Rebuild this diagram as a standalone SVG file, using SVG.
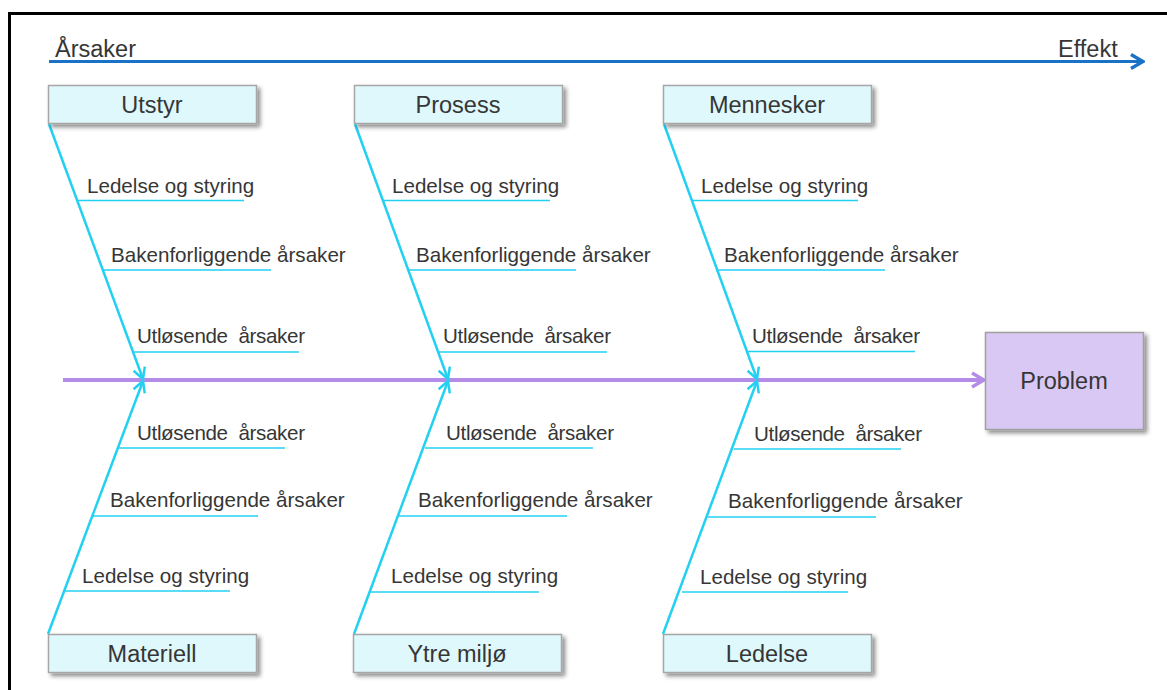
<svg xmlns="http://www.w3.org/2000/svg" width="1167" height="690" viewBox="0 0 1167 690">
  <defs>
    <style>
      text { font-family: "Liberation Sans", Arial, sans-serif; fill: #363636; }
      .title { font-size: 23.5px; text-anchor: middle; }
      .lbl { font-size: 20.6px; }
      .axislbl { font-size: 23.5px; }
      .cat { fill: #dff8fc; stroke: #a6a6a6; stroke-width: 1.5; }
      .prob { fill: #dac8f4; stroke: #a0a0a0; stroke-width: 1.5; }
      .bone { stroke: #22d0f2; stroke-width: 2.5; fill: none; }
      .sub { stroke: #22d0f2; stroke-width: 1.5; fill: none; }
      .spine { stroke: #b48ce8; stroke-width: 4; fill: none; }
      .axis { stroke: #1a72c6; stroke-width: 3; fill: none; }
    </style>
    <filter id="shadow" x="-10%" y="-20%" width="130%" height="160%">
      <feDropShadow dx="3" dy="3" stdDeviation="2" flood-color="#000" flood-opacity="0.45"/>
    </filter>
    <marker id="headCyan" viewBox="0 0 14 14" refX="12" refY="7" markerWidth="14" markerHeight="14" markerUnits="userSpaceOnUse" orient="auto">
      <path d="M1,1 L12,7 L1,13" fill="none" stroke="#22d0f2" stroke-width="2.5"/>
    </marker>
    <marker id="headPurple" viewBox="0 0 16 18" refX="14" refY="9" markerWidth="16" markerHeight="18" markerUnits="userSpaceOnUse" orient="auto">
      <path d="M2,2 L14,9 L2,16" fill="none" stroke="#b48ce8" stroke-width="3.5"/>
    </marker>
    <marker id="headBlue" viewBox="0 0 16 18" refX="14" refY="9" markerWidth="16" markerHeight="18" markerUnits="userSpaceOnUse" orient="auto">
      <path d="M2,2 L14,9 L2,16" fill="none" stroke="#1a72c6" stroke-width="3.5"/>
    </marker>
  </defs>

  <rect width="1167" height="690" fill="#ffffff"/>
  <!-- outer frame -->
  <path d="M9.5,690 V13.5 H1167" fill="none" stroke="#000" stroke-width="3"/>

  <!-- cause-to-effect axis -->
  <g id="axis">
    <line class="axis" x1="49" y1="61.5" x2="1143" y2="61.5" marker-end="url(#headBlue)"/>
    <text class="axislbl" x="55" y="57">Årsaker</text>
    <text class="axislbl" x="1058" y="57">Effekt</text>
  </g>

  <!-- connectors: spine, main bones, sub-branches -->
  <g id="connectors">
    <line class="spine" x1="63" y1="380" x2="984" y2="380" marker-end="url(#headPurple)"/>

    <line class="bone" x1="49" y1="124" x2="143" y2="379" marker-end="url(#headCyan)"/>
    <line class="bone" x1="355" y1="124" x2="448" y2="379" marker-end="url(#headCyan)"/>
    <line class="bone" x1="664" y1="124" x2="757" y2="379" marker-end="url(#headCyan)"/>

    <line class="bone" x1="48" y1="634" x2="143" y2="381" marker-end="url(#headCyan)"/>
    <line class="bone" x1="354" y1="634" x2="448" y2="381" marker-end="url(#headCyan)"/>
    <line class="bone" x1="663" y1="634" x2="757" y2="381" marker-end="url(#headCyan)"/>

    <!-- upper sub-branches -->
    <line class="sub" x1="77" y1="200.5" x2="244" y2="200.5"/>
    <line class="sub" x1="103" y1="270" x2="271" y2="270"/>
    <line class="sub" x1="133" y1="352" x2="299" y2="352"/>
    <line class="sub" x1="383" y1="200.5" x2="550" y2="200.5"/>
    <line class="sub" x1="408" y1="270" x2="576" y2="270"/>
    <line class="sub" x1="439" y1="352" x2="607" y2="352"/>
    <line class="sub" x1="692" y1="200.5" x2="858" y2="200.5"/>
    <line class="sub" x1="717" y1="270" x2="885" y2="270"/>
    <line class="sub" x1="748" y1="351.5" x2="915" y2="351.5"/>

    <!-- lower sub-branches -->
    <line class="sub" x1="119" y1="448" x2="285" y2="448"/>
    <line class="sub" x1="93" y1="516" x2="258" y2="516"/>
    <line class="sub" x1="64" y1="591" x2="230" y2="591"/>
    <line class="sub" x1="425" y1="448" x2="593" y2="448"/>
    <line class="sub" x1="399" y1="516" x2="567" y2="516"/>
    <line class="sub" x1="370" y1="592" x2="539" y2="592"/>
    <line class="sub" x1="734" y1="449" x2="901" y2="449"/>
    <line class="sub" x1="708" y1="517" x2="876" y2="517"/>
    <line class="sub" x1="682" y1="592" x2="848" y2="592"/>
  </g>

  <!-- branch labels -->
  <g id="labels">
    <text class="lbl" x="87" y="193">Ledelse og styring</text>
    <text class="lbl" x="111" y="262">Bakenforliggende årsaker</text>
    <text class="lbl" x="137" y="343" xml:space="preserve" textLength="168" lengthAdjust="spacing">Utløsende  årsaker</text>
    <text class="lbl" x="392" y="193">Ledelse og styring</text>
    <text class="lbl" x="416" y="262">Bakenforliggende årsaker</text>
    <text class="lbl" x="443" y="343" xml:space="preserve" textLength="168" lengthAdjust="spacing">Utløsende  årsaker</text>
    <text class="lbl" x="701" y="193">Ledelse og styring</text>
    <text class="lbl" x="724" y="262">Bakenforliggende årsaker</text>
    <text class="lbl" x="752" y="343" xml:space="preserve" textLength="168" lengthAdjust="spacing">Utløsende  årsaker</text>

    <text class="lbl" x="137" y="440" xml:space="preserve" textLength="168" lengthAdjust="spacing">Utløsende  årsaker</text>
    <text class="lbl" x="110" y="507">Bakenforliggende årsaker</text>
    <text class="lbl" x="82" y="583">Ledelse og styring</text>
    <text class="lbl" x="446" y="440" xml:space="preserve" textLength="168" lengthAdjust="spacing">Utløsende  årsaker</text>
    <text class="lbl" x="418" y="507">Bakenforliggende årsaker</text>
    <text class="lbl" x="391" y="583">Ledelse og styring</text>
    <text class="lbl" x="754" y="441" xml:space="preserve" textLength="168" lengthAdjust="spacing">Utløsende  årsaker</text>
    <text class="lbl" x="728" y="508">Bakenforliggende årsaker</text>
    <text class="lbl" x="700" y="584">Ledelse og styring</text>
  </g>

  <!-- category nodes -->
  <g id="utstyr">
    <rect class="cat" x="48.5" y="85.5" width="208" height="38" filter="url(#shadow)"/>
    <text class="title" x="152" y="113">Utstyr</text>
  </g>
  <g id="prosess">
    <rect class="cat" x="354.5" y="85.5" width="208" height="38" filter="url(#shadow)"/>
    <text class="title" x="458" y="113">Prosess</text>
  </g>
  <g id="mennesker">
    <rect class="cat" x="663.5" y="85.5" width="208" height="38" filter="url(#shadow)"/>
    <text class="title" x="767" y="113">Mennesker</text>
  </g>
  <g id="materiell">
    <rect class="cat" x="48.5" y="634.5" width="208" height="38" filter="url(#shadow)"/>
    <text class="title" x="152" y="662">Materiell</text>
  </g>
  <g id="ytre-miljo">
    <rect class="cat" x="353.5" y="634.5" width="208" height="38" filter="url(#shadow)"/>
    <text class="title" x="457" y="662">Ytre miljø</text>
  </g>
  <g id="ledelse">
    <rect class="cat" x="663.5" y="634.5" width="208" height="38" filter="url(#shadow)"/>
    <text class="title" x="767" y="662">Ledelse</text>
  </g>

  <!-- effect node -->
  <g id="problem">
    <rect class="prob" x="985.5" y="332.5" width="158" height="97" filter="url(#shadow)"/>
    <text class="title" x="1064" y="389">Problem</text>
  </g>
</svg>
